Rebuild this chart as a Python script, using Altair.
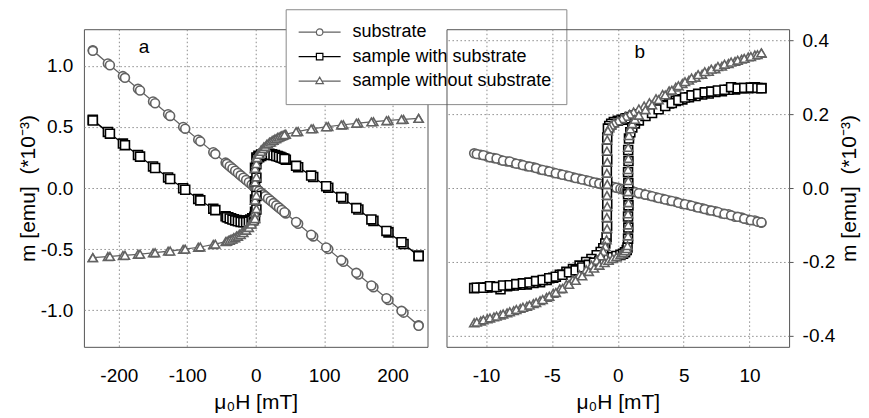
import altair as alt
import pandas as pd

FONT = "Liberation Sans"
GRAY = "#626262"
SERIES = ["substrate", "sample with substrate", "sample without substrate"]
MARKERS = ["circle", "square", "triangle-up"]
COLORS = [GRAY, "#000000", GRAY]

# ---------------- panel a (field sweep +-240 mT) ----------------
HA_DOWN = [238, 216, 194, 172, 150, 128, 106, 84, 62,
           44, 40, 36, 32, 28, 24, 20, 16, 12, 8, 4, 1,
           -1, -1, -1, -1,
           -2, -5, -8, -12, -16, -20, -24, -28, -32, -36, -40, -44,
           -62, -84, -106, -128, -150, -172, -194, -216, -238]
HA_UP = [-238, -213, -191, -169, -147, -125, -103, -81, -59,
         -42, -38, -34, -30, -26, -22, -18, -14, -10, -6, -3, -1,
         1, 1, 1, 1,
         2, 5, 8, 11, 14, 18, 22, 26, 30, 34, 38, 42,
         59, 81, 103, 125, 147, 169, 191, 213, 238]

CIRC_A_DOWN = [-1.123, -1.020, -0.916, -0.812, -0.708, -0.604, -0.500, -0.396, -0.293,
               -0.208, -0.189, -0.170, -0.151, -0.132, -0.113, -0.094, -0.076, -0.057, -0.038, -0.019, -0.005,
               0.005, 0.005, 0.005, 0.005,
               0.009, 0.024, 0.038, 0.057, 0.076, 0.094, 0.113, 0.132, 0.151, 0.170, 0.189, 0.208,
               0.293, 0.396, 0.500, 0.604, 0.708, 0.812, 0.916, 1.020, 1.128]
CIRC_A_UP = [1.123, 1.005, 0.902, 0.798, 0.694, 0.590, 0.486, 0.382, 0.278,
             0.198, 0.179, 0.160, 0.142, 0.123, 0.104, 0.085, 0.066, 0.047, 0.028, 0.014, 0.005,
             -0.005, -0.005, -0.005, -0.005,
             -0.009, -0.024, -0.038, -0.052, -0.066, -0.085, -0.104, -0.123, -0.142, -0.160, -0.179, -0.198,
             -0.278, -0.382, -0.486, -0.590, -0.694, -0.798, -0.902, -1.005, -1.128]

SQ_A_DOWN = [-0.553, -0.458, -0.363, -0.269, -0.176, -0.086, 0.003, 0.090, 0.170,
             0.232, 0.243, 0.253, 0.262, 0.270, 0.276, 0.280, 0.281, 0.280, 0.275, 0.264, 0.250,
             0.165, 0.055, -0.095, -0.195,
             -0.236, -0.248, -0.257, -0.265, -0.268, -0.268, -0.265, -0.261, -0.255, -0.248, -0.240, -0.231,
             -0.169, -0.089, -0.002, 0.087, 0.177, 0.270, 0.364, 0.459, 0.558]
SQ_A_UP = [0.553, 0.445, 0.351, 0.257, 0.164, 0.074, -0.014, -0.101, -0.181,
           -0.239, -0.249, -0.258, -0.265, -0.272, -0.277, -0.280, -0.280, -0.276, -0.267, -0.254, -0.245,
           -0.175, -0.065, 0.085, 0.195,
           0.239, 0.252, 0.262, 0.270, 0.274, 0.275, 0.272, 0.268, 0.262, 0.256, 0.248, 0.239,
           0.182, 0.102, 0.015, -0.074, -0.164, -0.257, -0.351, -0.444, -0.558]

TRI_A_DOWN = [0.570, 0.562, 0.553, 0.543, 0.532, 0.518, 0.503, 0.486, 0.463,
              0.440, 0.432, 0.423, 0.413, 0.402, 0.389, 0.374, 0.357, 0.337, 0.313, 0.283, 0.255,
              0.160, 0.050, -0.100, -0.200,
              -0.245, -0.272, -0.295, -0.322, -0.344, -0.362, -0.378, -0.393, -0.406, -0.418, -0.429, -0.439,
              -0.462, -0.485, -0.502, -0.517, -0.531, -0.542, -0.552, -0.561, -0.570]
TRI_A_UP = [-0.570, -0.560, -0.551, -0.541, -0.530, -0.516, -0.500, -0.483, -0.459,
            -0.437, -0.428, -0.418, -0.407, -0.395, -0.381, -0.365, -0.346, -0.323, -0.295, -0.268, -0.250,
            -0.170, -0.060, 0.090, 0.200,
            0.248, 0.276, 0.300, 0.322, 0.340, 0.360, 0.376, 0.391, 0.404, 0.416, 0.427, 0.437,
            0.460, 0.484, 0.501, 0.516, 0.530, 0.541, 0.551, 0.561, 0.570]

# ---------------- panel b (field sweep +-11 mT) ----------------
HB_DOWN = [10.9, 10.4, 9.9, 9.4, 8.9, 8.4, 7.9, 7.4, 6.9, 6.4, 5.9, 5.4, 4.9, 4.4, 3.9, 3.4, 2.9, 2.4,
           2.0, 1.6, 1.2, 0.9, 0.6, 0.3, 0.0, -0.3, -0.5, -0.65, -0.75,
           -0.8, -0.82, -0.8, -0.83, -0.8, -0.82, -0.8, -0.83, -0.81,
           -0.85, -0.95, -1.1, -1.3, -1.6,
           -2.0, -2.4, -2.9, -3.4, -3.9, -4.4, -4.9, -5.4, -5.9, -6.4, -6.9, -7.4, -7.9, -8.4, -8.9, -9.4, -9.9, -10.4, -10.9]
HB_UP = [-10.7, -10.2, -9.7, -9.2, -8.7, -8.2, -7.7, -7.2, -6.7, -6.2, -5.7, -5.2, -4.7, -4.2, -3.7, -3.2, -2.7, -2.2,
         -1.8, -1.4, -1.0, -0.7, -0.4, -0.1, 0.2, 0.4, 0.55, 0.68, 0.74,
         0.78, 0.8, 0.78, 0.81, 0.78, 0.8, 0.78, 0.81, 0.79,
         0.85, 0.95, 1.1, 1.3, 1.6,
         2.1, 2.6, 3.1, 3.6, 4.1, 4.6, 5.1, 5.6, 6.1, 6.6, 7.1, 7.6, 8.1, 8.6, 9.1, 9.6, 10.1, 10.6, 10.9]

CIRC_B_DOWN = [-0.094, -0.088, -0.086, -0.080, -0.078, -0.071, -0.069, -0.063, -0.060, -0.055, -0.051, -0.046, -0.043, -0.037, -0.034, -0.029, -0.025, -0.020,
               -0.017, -0.014, -0.010, -0.008, -0.005, -0.003, 0.000, 0.003, 0.004, 0.006, 0.006,
               0.007, 0.007, 0.006, 0.007, 0.008, 0.007, 0.006, 0.007, 0.007,
               0.007, 0.008, 0.009, 0.011, 0.014,
               0.017, 0.021, 0.025, 0.029, 0.034, 0.038, 0.042, 0.047, 0.050, 0.056, 0.059, 0.064, 0.068, 0.072, 0.076, 0.081, 0.085, 0.090, 0.094]
CIRC_B_UP = [0.092, 0.089, 0.083, 0.080, 0.074, 0.072, 0.066, 0.062, 0.058, 0.054, 0.049, 0.045, 0.040, 0.036, 0.032, 0.027, 0.023, 0.019,
             0.015, 0.012, 0.009, 0.006, 0.003, 0.001, -0.002, -0.003, -0.005, -0.006, -0.006,
             -0.007, -0.007, -0.006, -0.007, -0.008, -0.007, -0.006, -0.007, -0.007,
             -0.007, -0.008, -0.009, -0.011, -0.014,
             -0.018, -0.022, -0.027, -0.031, -0.035, -0.040, -0.044, -0.048, -0.053, -0.057, -0.061, -0.065, -0.070, -0.074, -0.078, -0.083, -0.087, -0.091, -0.093]

SQ_B_DOWN = [0.271, 0.273, 0.270, 0.271, 0.267, 0.266, 0.262, 0.260, 0.256, 0.253, 0.249, 0.246, 0.240, 0.236, 0.229, 0.224, 0.217, 0.211,
             0.205, 0.200, 0.196, 0.192, 0.189, 0.185, 0.182, 0.179, 0.174, 0.168, 0.161,
             0.137, 0.107, 0.077, 0.047, 0.017, -0.013, -0.043, -0.073, -0.103,
             -0.133, -0.150, -0.163, -0.173, -0.182,
             -0.192, -0.200, -0.210, -0.219, -0.227, -0.235, -0.243, -0.249, -0.255, -0.257, -0.261, -0.262, -0.264, -0.266, -0.274, -0.268, -0.269, -0.270, -0.271]
SQ_B_UP = [-0.270, -0.270, -0.266, -0.268, -0.264, -0.263, -0.260, -0.258, -0.256, -0.252, -0.249, -0.244, -0.240, -0.235, -0.228, -0.223, -0.215, -0.208,
           -0.202, -0.197, -0.193, -0.190, -0.187, -0.184, -0.181, -0.178, -0.174, -0.168, -0.161,
           -0.137, -0.107, -0.077, -0.047, -0.017, 0.013, 0.043, 0.073, 0.103,
           0.134, 0.151, 0.164, 0.175, 0.183,
           0.195, 0.203, 0.213, 0.222, 0.230, 0.238, 0.245, 0.251, 0.255, 0.259, 0.261, 0.264, 0.266, 0.273, 0.270, 0.271, 0.272, 0.271, 0.270]

TRI_B_DOWN = [0.365, 0.360, 0.355, 0.349, 0.343, 0.337, 0.330, 0.323, 0.316, 0.308, 0.300, 0.292, 0.283, 0.273, 0.263, 0.253, 0.242, 0.231,
              0.222, 0.214, 0.206, 0.200, 0.194, 0.188, 0.182, 0.176, 0.170, 0.163, 0.155,
              0.130, 0.100, 0.070, 0.040, 0.010, -0.020, -0.050, -0.080, -0.110,
              -0.140, -0.158, -0.172, -0.184, -0.196,
              -0.209, -0.221, -0.235, -0.248, -0.261, -0.273, -0.285, -0.296, -0.305, -0.313, -0.320, -0.326, -0.332, -0.338, -0.344, -0.349, -0.354, -0.360, -0.365]
TRI_B_UP = [-0.363, -0.357, -0.352, -0.347, -0.341, -0.335, -0.329, -0.323, -0.317, -0.310, -0.302, -0.293, -0.283, -0.272, -0.261, -0.250, -0.238, -0.226,
            -0.217, -0.209, -0.202, -0.196, -0.191, -0.186, -0.181, -0.176, -0.170, -0.164, -0.156,
            -0.130, -0.100, -0.070, -0.040, -0.010, 0.020, 0.050, 0.080, 0.110,
            0.142, 0.160, 0.174, 0.186, 0.197,
            0.212, 0.225, 0.239, 0.252, 0.265, 0.277, 0.288, 0.298, 0.307, 0.315, 0.322, 0.329, 0.335, 0.341, 0.346, 0.351, 0.356, 0.361, 0.366]

XTICKS_A = [-200, -100, 0, 100, 200]
YTICKS_A = [-1.0, -0.5, 0.0, 0.5, 1.0]
XTICKS_B = [-10, -5, 0, 5, 10]
YTICKS_B = [-0.4, -0.2, 0.0, 0.2, 0.4]

X_TITLE = "\u03bc\u2080H [mT]"
Y_TITLE = "m [emu]\u00a0\u00a0(*10\u207b\u00b3)"


def make_df(h_down, h_up, branches):
    rows = []
    for k, (name, (d, u)) in enumerate(zip(SERIES, branches)):
        assert len(d) == len(h_down) and len(u) == len(h_up), name
        for i, (h, m) in enumerate(zip(h_down + h_up, d + u)):
            rows.append({"H": h, "m": m, "series": name, "k": k, "idx": i})
    return pd.DataFrame(rows)


df_a = make_df(HA_DOWN, HA_UP, [(CIRC_A_DOWN, CIRC_A_UP), (SQ_A_DOWN, SQ_A_UP), (TRI_A_DOWN, TRI_A_UP)])
df_b = make_df(HB_DOWN, HB_UP, [(CIRC_B_DOWN, CIRC_B_UP), (SQ_B_DOWN, SQ_B_UP), (TRI_B_DOWN, TRI_B_UP)])

# legend glyphs: line segment with the marker in its middle
CIRC_PATH = "M-2,0H1.55M2.85,0H6.4M2.85,0A0.65,0.65,0,1,1,1.55,0A0.65,0.65,0,1,1,2.85,0"
SQ_PATH = "M-2,0H1.55M2.85,0H6.4M1.55,-0.65H2.85V0.65H1.55Z"
TRI_PATH = "M-2,0H1.75M2.65,0H6.4M2.2,-0.8L2.95,0.5L1.45,0.5Z"
LEGEND_SHAPES = [CIRC_PATH, SQ_PATH, TRI_PATH]

legend_a = alt.Legend(
    title=None, orient="none", legendX=202, legendY=-20, direction="vertical",
    fillColor="white", strokeColor="#8a8a8a", padding=14,
    labelFont=FONT, labelFontSize=18, labelColor="black", labelOffset=35, labelLimit=400,
    symbolSize=100, symbolStrokeWidth=1.2, symbolFillColor="white",
    symbolOpacity=1, rowPadding=6.5,
)

MINUS_FIX = "replace(datum.label, '\u2212', '-')"


def panel(df, xdom, ydom, xticks, yticks, yorient, with_legend, label, label_h, label_m, width):
    x = alt.X("H:Q", scale=alt.Scale(domain=xdom, nice=False, zero=False),
              axis=alt.Axis(values=xticks, title=X_TITLE, labelPadding=20, titlePadding=6,
                            labelExpr=MINUS_FIX, format="d"))
    if yorient == "left":
        yaxis = alt.Axis(values=yticks, title=Y_TITLE, orient="left", format=".1f",
                         labelPadding=11, titlePadding=2, labelExpr=MINUS_FIX)
    else:
        yaxis = alt.Axis(values=yticks, title=Y_TITLE, orient="right", format=".1f",
                         ticks=True, tickSize=4, tickColor="#555555", labelPadding=9,
                         titlePadding=4, titleAngle=270, titleBaseline="top",
                         labelAlign="left", labelExpr=MINUS_FIX)
    y = alt.Y("m:Q", scale=alt.Scale(domain=ydom, nice=False, zero=False), axis=yaxis)
    base = alt.Chart(df)
    lines = base.mark_line(strokeWidth=1.2).encode(
        x=x, y=y,
        stroke=alt.Stroke("series:N", scale=alt.Scale(domain=SERIES, range=COLORS), legend=None),
        detail="series:N",
        order="idx:Q",
    )
    pts = base.mark_point(filled=False, fill="white", fillOpacity=1, opacity=1,
                          size=80, strokeWidth=1.6).encode(
        x=x, y=y,
        shape=alt.Shape("series:N", scale=alt.Scale(domain=SERIES, range=MARKERS), legend=None),
        stroke=alt.Stroke("series:N", scale=alt.Scale(domain=SERIES, range=COLORS), legend=None),
        order="k:Q",
    )
    txt = alt.Chart(pd.DataFrame({"H": [label_h], "m": [label_m], "t": [label]})).mark_text(
        font=FONT, fontSize=19, color="black", align="center", baseline="alphabetic"
    ).encode(x=alt.X("H:Q"), y=alt.Y("m:Q"), text="t:N")
    layers = [lines, pts, txt]
    if with_legend:
        lg = alt.Chart(pd.DataFrame({"lg": SERIES, "H": [0.0] * 3, "m": [0.0] * 3})).mark_point(
            filled=False, fill="white", opacity=0, size=100
        ).encode(
            x=alt.X("H:Q"), y=alt.Y("m:Q"),
            shape=alt.Shape("lg:N", scale=alt.Scale(domain=SERIES, range=LEGEND_SHAPES), legend=legend_a),
            stroke=alt.Stroke("lg:N", scale=alt.Scale(domain=SERIES, range=COLORS), legend=legend_a),
        )
        layers.append(lg)
    return alt.layer(*layers).resolve_scale(shape="independent", stroke="independent").properties(
        width=width, height=318)


pa = panel(df_a, [-251, 251], [-1.3, 1.3], XTICKS_A, YTICKS_A, "left", True, "a", -163, 1.105, 344)
pb = panel(df_b, [-13, 13], [-0.43, 0.43], XTICKS_B, YTICKS_B, "right", False, "b", 1.67, 0.351, 343)

chart = alt.hconcat(pa, pb, spacing=19, bounds="flush").resolve_scale(
    shape="independent", stroke="independent"
).properties(
    padding={"left": 8, "top": 0, "right": 0, "bottom": 0}
).configure_view(stroke="#555555", strokeWidth=1).configure_axis(
    labelFont=FONT, titleFont=FONT, labelFontSize=19, titleFontSize=21,
    titleFontWeight="normal", labelColor="black", titleColor="black",
    gridColor="#8c8c8c", gridDash=[1.5, 2.5], gridWidth=1,
    domain=False, ticks=False, tickSize=0,
)

chart.save("out.html", embed_options={"renderer": "svg", "actions": False})
